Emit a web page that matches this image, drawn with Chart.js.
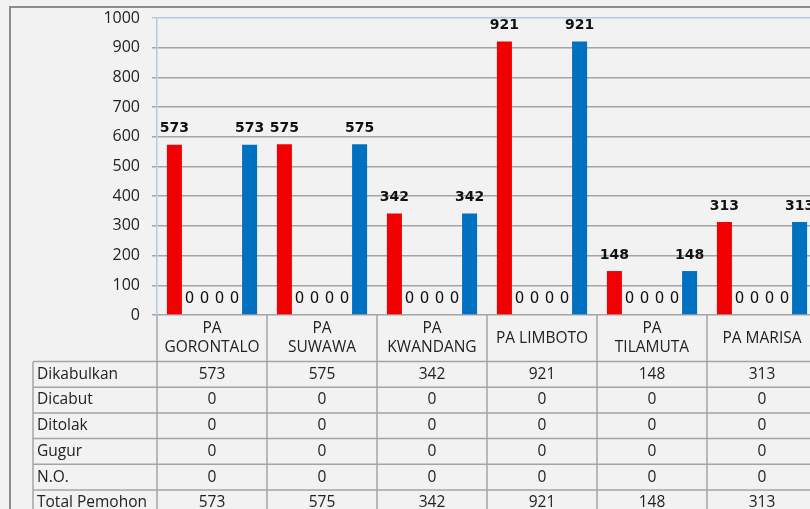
<!DOCTYPE html>
<html>
<head>
<meta charset="utf-8">
<script src="https://cdn.jsdelivr.net/npm/chart.js@4/dist/chart.umd.min.js"></script>
<style>
  html, body { margin: 0; padding: 0; background: #f2f2f2; overflow: hidden; }
  #wrap { width: 810px; height: 509px; overflow: hidden; position: relative; }
  canvas { display: block; }
</style>
</head>
<body>
<div id="wrap"><canvas id="chart" width="830" height="509"></canvas></div>
<script>
"use strict";

// Categories (court offices) and series values
const categories = [["PA", "GORONTALO"], ["PA", "SUWAWA"], ["PA", "KWANDANG"], ["PA LIMBOTO"], ["PA", "TILAMUTA"], ["PA MARISA"]];
const dikabulkan = [573, 575, 342, 921, 148, 313];
const dicabut = [0, 0, 0, 0, 0, 0];
const ditolak = [0, 0, 0, 0, 0, 0];
const gugur = [0, 0, 0, 0, 0, 0];
const nonOntvankelijk = [0, 0, 0, 0, 0, 0];
const totalPemohon = [573, 575, 342, 921, 148, 313];
const yTicks = [0, 100, 200, 300, 400, 500, 600, 700, 800, 900, 1000];

const seriesNames = ["Dikabulkan", "Dicabut", "Ditolak", "Gugur", "N.O.", "Total Pemohon"];
const seriesData = [dikabulkan, dicabut, ditolak, gugur, nonOntvankelijk, totalPemohon];
const seriesColors = ["#f00000", "#a5a5a5", "#ffc000", "#5b9bd5", "#70ad47", "#0070c0"];

const TEXT_FONT = "'Open Sans', sans-serif";
const LINE_COLOR = "#a4a4a4";

// Value labels above each bar (zeros sit on the baseline)
const valueLabels = {
  id: "valueLabels",
  afterDatasetsDraw(chart) {
    const ctx = chart.ctx;
    ctx.save();
    ctx.textAlign = "center";
    ctx.textBaseline = "middle";
    ctx.fillStyle = "#111";
    chart.data.datasets.forEach((ds, i) => {
      const meta = chart.getDatasetMeta(i);
      meta.data.forEach((bar, j) => {
        const v = ds.data[j];
        ctx.font = v === 0 ? "15px 'DejaVu Sans'" : "bold 14px 'DejaVu Sans'";
        ctx.fillText(String(v), bar.x, bar.y - 16);
      });
    });
    ctx.restore();
  }
};

// Data table under the plot area
const dataTable = {
  id: "dataTable",
  afterDraw(chart) {
    const ctx = chart.ctx;
    const area = chart.chartArea;
    const x = chart.scales.x;
    const bottomEdge = chart.height;
    const tableLeft = 33;
    const rowTop = 361.5;
    const rowH = 25.7;
    const half = (x.getPixelForValue(1) - x.getPixelForValue(0)) / 2;

    ctx.save();
    ctx.strokeStyle = LINE_COLOR;
    ctx.lineWidth = 1.5;

    // category column boundaries
    for (let i = 0; i <= categories.length; i++) {
      const bx = Math.round(x.getPixelForValue(0) - half + i * 2 * half);
      ctx.beginPath();
      ctx.moveTo(bx, area.bottom);
      ctx.lineTo(bx, bottomEdge);
      ctx.stroke();
    }
    // row header left edge
    ctx.beginPath();
    ctx.moveTo(tableLeft, rowTop);
    ctx.lineTo(tableLeft, bottomEdge);
    ctx.stroke();
    // row lines
    for (let r = 0; r <= seriesNames.length; r++) {
      const ry = rowTop + r * rowH;
      ctx.beginPath();
      ctx.moveTo(tableLeft, ry);
      ctx.lineTo(chart.width, ry);
      ctx.stroke();
    }

    ctx.fillStyle = "#222";
    ctx.font = "15.5px " + TEXT_FONT;
    ctx.textBaseline = "middle";

    // category labels
    ctx.textAlign = "center";
    categories.forEach((lbl, i) => {
      const cx = x.getPixelForValue(i);
      if (lbl.length === 2) {
        ctx.fillText(lbl[0], cx, 329);
        ctx.fillText(lbl[1], cx, 348);
      } else {
        ctx.fillText(lbl[0], cx, 339);
      }
    });

    // rows
    seriesNames.forEach((name, r) => {
      const cy = rowTop + r * rowH + rowH / 2;
      ctx.textAlign = "left";
      ctx.fillText(name, tableLeft + 4, cy);
      ctx.textAlign = "center";
      seriesData[r].forEach((v, i) => {
        ctx.fillText(String(v), x.getPixelForValue(i), cy);
      });
    });

    // outer frame
    ctx.strokeStyle = "#8c8c8c";
    ctx.lineWidth = 2;
    ctx.beginPath();
    ctx.moveTo(10, bottomEdge);
    ctx.lineTo(10, 7);
    ctx.lineTo(chart.width, 7);
    ctx.stroke();
    ctx.restore();
  }
};

new Chart(document.getElementById("chart"), {
  type: "bar",
  data: {
    labels: categories.map((c) => c.join(" ")),
    datasets: seriesNames.map((name, i) => ({
      label: name,
      data: seriesData[i],
      backgroundColor: seriesColors[i],
      borderWidth: 0,
      categoryPercentage: 0.82,
      barPercentage: 1
    }))
  },
  options: {
    responsive: false,
    animation: false,
    layout: { padding: { left: 0, top: 18, right: 13, bottom: 194 } },
    plugins: { legend: { display: false }, tooltip: { enabled: false } },
    scales: {
      x: { display: false },
      y: {
        min: 0,
        max: 1000,
        afterFit(scale) {
          scale.width = 157;
          scale.paddingTop = 0;
          scale.paddingBottom = 0;
        },
        afterBuildTicks(scale) { scale.ticks = yTicks.map((v) => ({ value: v })); },
        ticks: {
          padding: 12,
          color: "#222",
          font: { family: "'Open Sans', sans-serif", size: 16 },
          callback: (v) => String(v)
        },
        grid: {
          color: (c) => (c.tick && c.tick.value === 1000 ? "#b8c8de" : LINE_COLOR),
          lineWidth: 1.5,
          tickLength: 5
        },
        border: { color: "#b8c8de", width: 1.5 }
      }
    }
  },
  plugins: [valueLabels, dataTable]
});
</script>
</body>
</html>
